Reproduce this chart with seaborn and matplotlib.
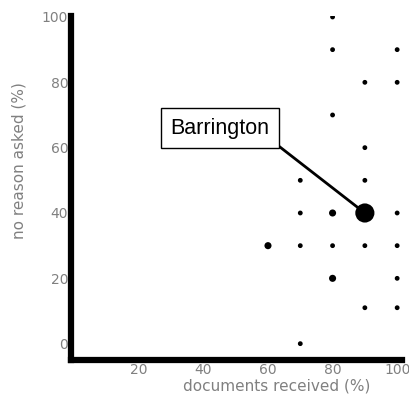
import pandas as pd
import matplotlib.pyplot as plt
import seaborn as sns

# points
docs_received = [80, 80, 100, 90, 100, 80, 90, 70, 90, 70, 80, 90, 100, 60, 70, 80, 90, 100, 80, 100, 90, 100, 70]
no_reason = [100, 90, 90, 80, 80, 70, 60, 50, 50, 40, 40, 40, 40, 30, 30, 30, 30, 30, 20, 20, 11, 11, 0]
counts = [1, 1, 1, 1, 1, 1, 1, 1, 1, 1, 2, 8, 1, 2, 1, 1, 1, 1, 2, 1, 1, 1, 1]

df = pd.DataFrame({"docs": docs_received, "noreason": no_reason, "n": counts})

sns.set_style("white")
plt.rcParams["font.family"] = ["DejaVu Sans"]

fig = plt.figure(figsize=(4.1, 4.04), dpi=100)
ax = fig.add_axes([71 / 410, 1 - 360 / 404, (402 - 71) / 410, (360 - 16) / 404])

sns.scatterplot(data=df, x="docs", y="noreason", size="n",
                sizes={1: 12, 2: 26, 8: 190}, color="black",
                edgecolor="none", legend=False, ax=ax)

ax.set_xlim(-1, 101.5)
ax.set_ylim(-5, 100.3)
ax.set_xticks([20, 40, 60, 80, 100])
ax.set_yticks([0, 20, 40, 60, 80, 100])
ax.tick_params(length=0, labelsize=10, labelcolor="#808080", pad=2)

for side in ["top", "right"]:
    ax.spines[side].set_visible(False)
for side in ["left", "bottom"]:
    ax.spines[side].set_linewidth(4.5)
    ax.spines[side].set_color("black")

ax.set_xlabel("documents received (%)", fontsize=11, color="#808080")
ax.set_ylabel("no reason asked (%)", fontsize=11, color="#808080")
ax.xaxis.set_label_coords(0.62, -0.055)
ax.yaxis.set_label_coords(-0.135, 0.58)

ax.annotate("Barrington", xy=(90, 40), xytext=(45, 66),
            fontsize=15.5, family="Liberation Sans", color="black",
            ha="center", va="center",
            bbox=dict(boxstyle="square,pad=0.44", fc="white", ec="black", lw=1),
            arrowprops=dict(arrowstyle="-", color="black", lw=2, relpos=(1, 0),
                            shrinkA=0, shrinkB=0))

plt.savefig("out.png", dpi=100)
